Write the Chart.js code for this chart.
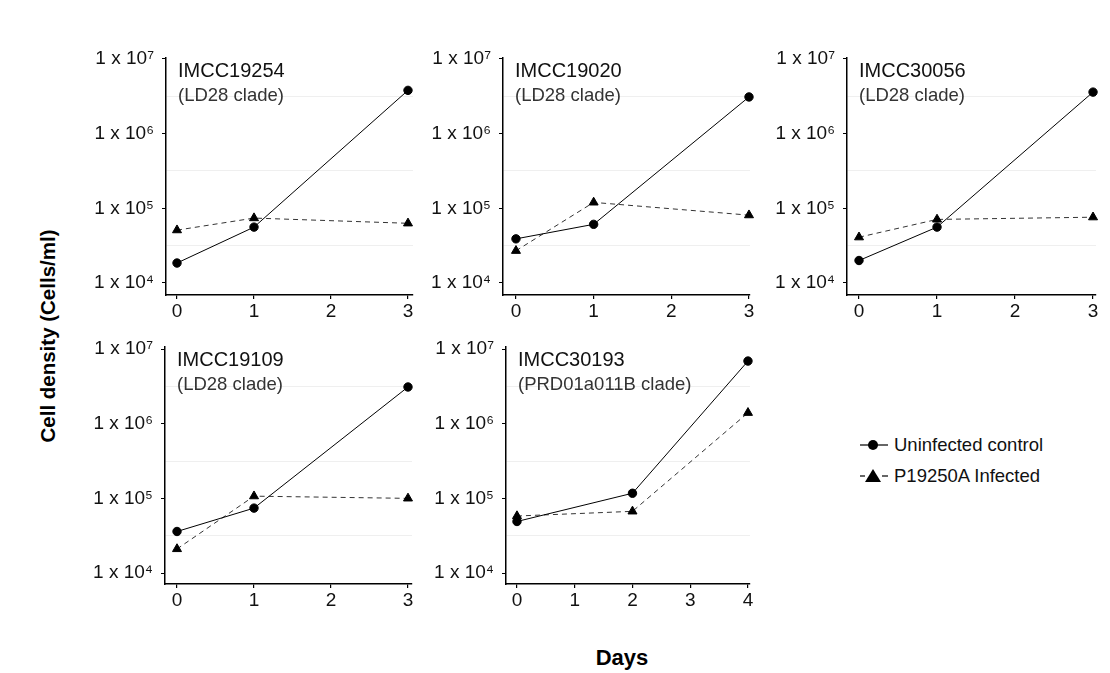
<!DOCTYPE html>
<html>
<head>
<meta charset="utf-8">
<script src="https://cdn.jsdelivr.net/npm/chart.js@4/dist/chart.umd.min.js"></script>
<style>
  html, body { margin:0; padding:0; background:#fff; }
  body { width:1110px; height:673px; position:relative; overflow:hidden; font-family:'Liberation Sans', Arial, sans-serif; }
  canvas { position:absolute; }
  .ytitle { position:absolute; left:48px; top:336px; transform:translate(-50%,-50%) rotate(-90deg); font-weight:bold; font-size:20.5px; white-space:nowrap; color:#000; }
  .xtitle { position:absolute; left:622px; top:658px; transform:translate(-50%,-50%); font-weight:bold; font-size:22px; color:#000; }
  .legend { position:absolute; left:858px; top:429px; font-size:18.5px; color:#111; }
  .legend div { display:flex; align-items:center; height:31px; }
  .legend svg { margin-right:4px; }
</style>
</head>
<body>
<div class="ytitle">Cell density (Cells/ml)</div>
<div class="xtitle">Days</div>
<div class="legend">
  <div><svg width="32" height="16"><line x1="2" y1="8" x2="30" y2="8" stroke="#000" stroke-width="1.2"/><circle cx="15" cy="8" r="5" fill="#000"/></svg>Uninfected control</div>
  <div><svg width="32" height="16"><line x1="2" y1="8" x2="7" y2="8" stroke="#000" stroke-width="1.2"/><line x1="24" y1="8" x2="30" y2="8" stroke="#000" stroke-width="1.2"/><polygon points="15,1 23,14 7,14" fill="#000"/></svg>P19250A Infected</div>
</div>

<script>
// ---- data ----
const panelNames = ['IMCC19254', 'IMCC19020', 'IMCC30056', 'IMCC19109', 'IMCC30193'];
const panelClades = ['(LD28 clade)', '(LD28 clade)', '(LD28 clade)', '(LD28 clade)', '(PRD01a011B clade)'];

const daysLD28 = [0, 1, 3];
const daysPRD = [0, 2, 4];

const imcc19254Uninfected = [1.85e4, 5.6e4, 3.8e6];
const imcc19254Infected   = [5.1e4, 7.4e4, 6.3e4];

const imcc19020Uninfected = [3.9e4, 6.1e4, 3.1e6];
const imcc19020Infected   = [2.7e4, 1.2e5, 8.1e4];

const imcc30056Uninfected = [2.0e4, 5.6e4, 3.6e6];
const imcc30056Infected   = [4.1e4, 7.1e4, 7.6e4];

const imcc19109Uninfected = [3.6e4, 7.4e4, 3.1e6];
const imcc19109Infected   = [2.1e4, 1.07e5, 1.0e5];

const imcc30193Uninfected = [4.9e4, 1.17e5, 6.9e6];
const imcc30193Infected   = [5.8e4, 6.7e4, 1.4e6];

const yTickExponents = [4, 4.5, 5, 5.5, 6, 6.5, 7];
const xTicksLD28 = [0, 1, 2, 3];
const xTicksPRD = [0, 1, 2, 3, 4];

const seriesLabels = ['Uninfected control', 'P19250A Infected'];

// ---- helpers ----
const FONT = "'Liberation Sans', Arial, sans-serif";
const SUP = {4: '\u2074', 5: '\u2075', 6: '\u2076', 7: '\u2077'};
function isDecade(v) { const l = Math.log10(v); return Math.abs(l - Math.round(l)) < 1e-6; }

const panelLabelPlugin = {
  id: 'panelLabel',
  afterDraw(chart, args, opts) {
    const ctx = chart.ctx, a = chart.chartArea;
    ctx.save();
    ctx.textAlign = 'left';
    ctx.textBaseline = 'alphabetic';
    ctx.fillStyle = '#111';
    ctx.font = '20px ' + FONT;
    ctx.fillText(opts.name, a.left + 12, a.top + 19);
    ctx.fillStyle = '#333';
    ctx.font = '18.5px ' + FONT;
    ctx.fillText(opts.clade, a.left + 12, a.top + 43);
    ctx.restore();
  }
};

function makePanel(idx, days, unin, inf, xTicks, geom) {
  const padTop = 26, padRight = 8, yW = 100, xH = 40, areaH = 237;
  const c = document.createElement('canvas');
  const w = yW + (geom.rightEnd - geom.axisX) + padRight;
  const h = padTop + areaH + xH;
  c.width = w; c.height = h;
  c.style.left = (geom.axisX - yW) + 'px';
  c.style.top = (geom.top - padTop) + 'px';
  c.style.width = w + 'px'; c.style.height = h + 'px';
  document.body.appendChild(c);

  new Chart(c, {
    type: 'line',
    data: {
      datasets: [
        {
          label: seriesLabels[0],
          data: days.map((d, i) => ({x: d, y: unin[i]})),
          borderColor: '#000', backgroundColor: '#000', borderWidth: 1,
          pointStyle: 'circle', pointRadius: 4.2, pointHoverRadius: 4.2,
          tension: 0, clip: false
        },
        {
          label: seriesLabels[1],
          data: days.map((d, i) => ({x: d, y: inf[i]})),
          borderColor: '#333', backgroundColor: '#000', borderWidth: 1, borderDash: [5, 4],
          pointBorderColor: '#000',
          pointStyle: 'triangle', pointRadius: 5.2, pointHoverRadius: 5.2,
          tension: 0, clip: false
        }
      ]
    },
    options: {
      responsive: false, animation: false, devicePixelRatio: 1,
      layout: { padding: { top: padTop, right: padRight, left: 0, bottom: 0 } },
      plugins: {
        legend: { display: false }, tooltip: { enabled: false },
        panelLabel: { name: panelNames[idx], clade: panelClades[idx] }
      },
      scales: {
        x: {
          type: 'linear', min: geom.xmin, max: geom.xmax,
          afterBuildTicks: s => { s.ticks = xTicks.map(v => ({value: v})); },
          afterFit: s => { s.height = xH; },
          border: { display: true, color: '#000', width: 1.5 },
          grid: { drawOnChartArea: false, drawTicks: true, tickLength: 4, tickColor: '#000', lineWidth: 1.2 },
          ticks: { font: { family: FONT, size: 19 }, color: '#111', padding: 1, maxRotation: 0,
                   callback: v => String(v) }
        },
        y: {
          type: 'logarithmic', min: geom.ymin, max: geom.ymax,
          afterBuildTicks: s => { s.ticks = yTickExponents.map(e => ({value: Math.pow(10, e)})); },
          afterFit: s => { s.width = yW; },
          border: { display: true, color: '#000', width: 1.5 },
          grid: {
            drawOnChartArea: true, drawTicks: true, tickLength: 4, lineWidth: 1,
            color: ctx => (ctx.tick && !isDecade(ctx.tick.value)) ? '#efefef' : 'rgba(0,0,0,0)',
            tickColor: ctx => (ctx.tick && isDecade(ctx.tick.value)) ? '#000' : 'rgba(0,0,0,0)'
          },
          ticks: {
            font: { family: FONT, size: 19 }, color: '#111', padding: 8, autoSkip: false,
            callback: v => isDecade(v) ? ('1 x 10' + SUP[Math.round(Math.log10(v))]) : ''
          }
        }
      }
    },
    plugins: [panelLabelPlugin]
  });
}

const row1 = { top: 58, ymin: Math.pow(10, 3.839), ymax: Math.pow(10, 7.013) };
const row2 = { top: 347, ymin: Math.pow(10, 3.853), ymax: Math.pow(10, 7.027) };

makePanel(0, daysLD28, imcc19254Uninfected, imcc19254Infected, xTicksLD28,
  Object.assign({ axisX: 166, rightEnd: 413, xmin: -0.143, xmax: 3.065 }, row1));
makePanel(1, daysLD28, imcc19020Uninfected, imcc19020Infected, xTicksLD28,
  Object.assign({ axisX: 503, rightEnd: 750, xmin: -0.167, xmax: 3.013 }, row1));
makePanel(2, daysLD28, imcc30056Uninfected, imcc30056Infected, xTicksLD28,
  Object.assign({ axisX: 847, rightEnd: 1096, xmin: -0.154, xmax: 3.038 }, row1));
makePanel(3, daysLD28, imcc19109Uninfected, imcc19109Infected, xTicksLD28,
  Object.assign({ axisX: 165, rightEnd: 412, xmin: -0.156, xmax: 3.052 }, row2));
makePanel(4, daysPRD, imcc30193Uninfected, imcc30193Infected, xTicksPRD,
  Object.assign({ axisX: 506, rightEnd: 750, xmin: -0.19, xmax: 4.035 }, row2));
</script>
</body>
</html>
